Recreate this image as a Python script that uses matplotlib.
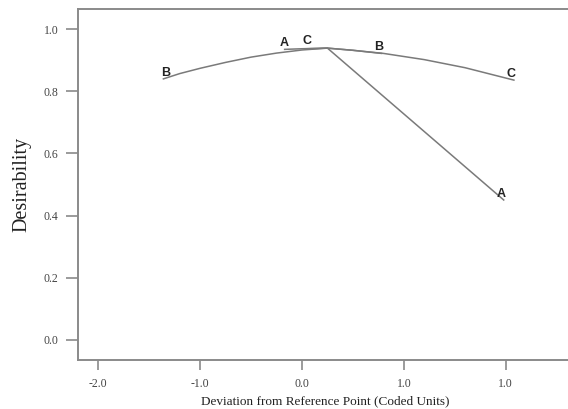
import numpy as np
import matplotlib.pyplot as plt

# traces of each factor: deviation from reference point vs desirability
a_x = [-0.17, 0.0, 0.25, 1.98]
a_y = [0.935, 0.937, 0.939, 0.45]

b_x = [-1.36, -1.2, -1.0, -0.75, -0.5, -0.25, 0.0, 0.25, 0.5, 0.78]
b_y = [0.840, 0.857, 0.874, 0.893, 0.910, 0.923, 0.933, 0.939, 0.932, 0.922]

c_x = [0.05, 0.25, 0.5, 0.8, 1.2, 1.6, 2.08]
c_y = [0.937, 0.939, 0.932, 0.922, 0.902, 0.876, 0.836]

x_ticks = [-2.0, -1.0, 0.0, 1.0, 2.0]
x_tick_labels = ["-2.0", "-1.0", "0.0", "1.0", "1.0"]
y_ticks = [0.0, 0.2, 0.4, 0.6, 0.8, 1.0]

fig = plt.figure(figsize=(5.68, 4.09), dpi=100)
ax = fig.add_axes([0.137, 0.12, 0.87, 0.858])

line_col = "#7a7a7a"
for xs, ys in [(a_x, a_y), (b_x, b_y), (c_x, c_y)]:
    ax.plot(xs, ys, color=line_col, lw=1.1)

lab_font = dict(family="Liberation Sans", weight="bold", fontsize=9, color="#222222",
                ha="center", va="bottom")
ax.annotate("A", (a_x[0], a_y[0]), xytext=(0, 0), textcoords="offset points", **lab_font)
ax.annotate("A", (a_x[-1], a_y[-1]), xytext=(-2, 0), textcoords="offset points", **lab_font)
ax.annotate("B", (b_x[0], b_y[0]), xytext=(2, 0), textcoords="offset points", **lab_font)
ax.annotate("B", (b_x[-1], b_y[-1]), xytext=(-2, 0), textcoords="offset points", **lab_font)
ax.annotate("C", (c_x[0], c_y[0]), xytext=(0, 1), textcoords="offset points", **lab_font)
ax.annotate("C", (c_x[-1], c_y[-1]), xytext=(-2, 0), textcoords="offset points", **lab_font)

ax.set_xlim(-2.2, 2.65)
ax.set_ylim(-0.065, 1.065)
ax.set_xticks(x_ticks)
ax.set_xticklabels(x_tick_labels)
ax.set_yticks(y_ticks)
ax.set_yticklabels([f"{v:.1f}" for v in y_ticks])

for lbl in ax.get_xticklabels() + ax.get_yticklabels():
    lbl.set_family("Liberation Serif")
    lbl.set_fontsize(8.5)
    lbl.set_color("#444444")

spine_col = "#8a8a8a"
for s in ["left", "bottom", "top"]:
    ax.spines[s].set_color(spine_col)
    ax.spines[s].set_linewidth(1.4)
ax.spines["right"].set_visible(False)
ax.tick_params(axis="y", length=9, width=1.2, color=spine_col, pad=5)
ax.tick_params(axis="x", length=7, width=1.2, color=spine_col, pad=6)

ax.set_ylabel("Desirability", family="Liberation Serif", fontsize=14.5, color="#222222", labelpad=9)
ax.set_xlabel("Deviation from Reference Point (Coded Units)", family="Liberation Serif",
              fontsize=9.5, color="#222222", labelpad=4)

fig.savefig("out.png", dpi=100)
